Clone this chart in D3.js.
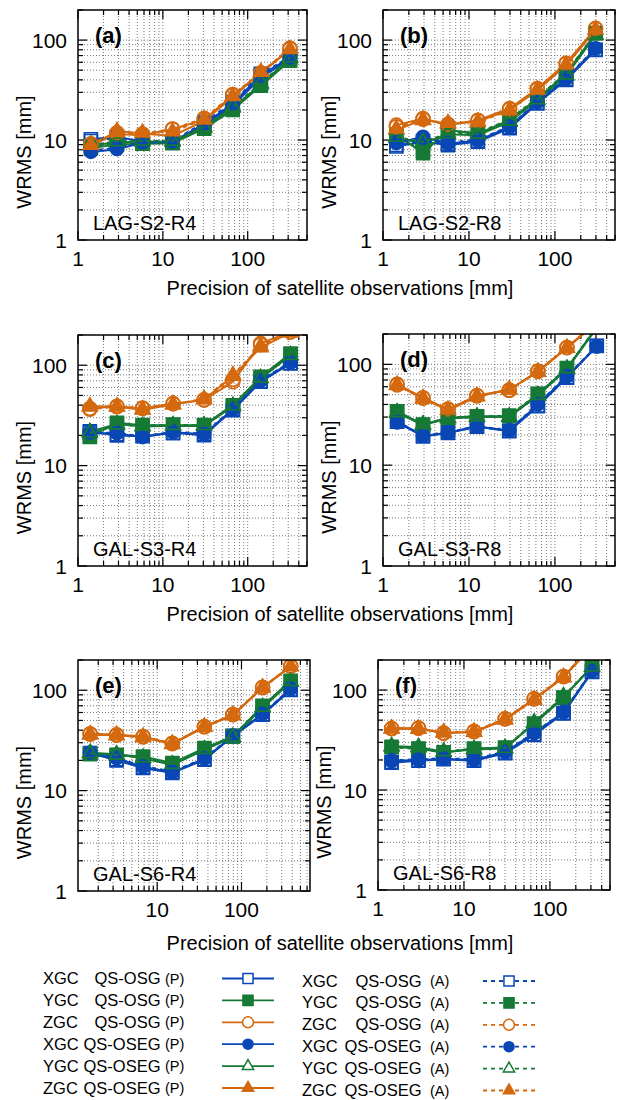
<!DOCTYPE html>
<html>
<head>
<meta charset="utf-8">
<script src="https://cdn.jsdelivr.net/npm/d3@7"></script>
<style>
  body { margin: 0; background: #fff; }
  svg { display: block; }
  text { font-family: "Liberation Sans", Arial, Helvetica, sans-serif; fill: #000; }
</style>
</head>
<body>
<div id="chart"></div>
<script>
// ---- data ----
const seriesNames = ["XGC", "YGC", "ZGC", "XGC", "YGC", "ZGC"];
const methodNames = ["QS-OSG", "QS-OSG", "QS-OSG", "QS-OSEG", "QS-OSEG", "QS-OSEG"];
const solutionTags = ["(P)", "(A)"];
const panelTags = ["(a)", "(b)", "(c)", "(d)", "(e)", "(f)"];
const siteLabels = ["LAG-S2-R4", "LAG-S2-R8", "GAL-S3-R4", "GAL-S3-R8", "GAL-S6-R4", "GAL-S6-R8"];
const xTitle = "Precision of satellite observations [mm]";
const yTitle = "WRMS [mm]";

// precision of observations [mm] per panel
const xA = [1.42, 2.88, 5.75, 13.0, 30.7, 66.7, 143, 315];
const xB = [1.43, 2.92, 5.7, 12.7, 29.7, 62.4, 135, 297];
const xC = [1.38, 2.88, 5.77, 13.2, 30.6, 67, 142, 320];
const xD = [1.46, 2.92, 5.7, 12.4, 29.4, 63.4, 138, 307];
const xE = [1.6, 3.3, 6.8, 15.1, 36.3, 79, 178, 384];
const xF = [1.44, 2.96, 5.8, 13.1, 30.1, 65.5, 144, 309];

// WRMS [mm], rows: XGC OSG, YGC OSG, ZGC OSG, XGC OSEG, YGC OSEG, ZGC OSEG
const wrmsA_P = [
  [10.2, 10.8, 9.6, 9.6, 14.5, 23, 45, 66],
  [8.3, 9.0, 9.2, 9.3, 13.0, 20, 35, 62],
  [8.9, 11.5, 11.2, 12.8, 16, 28, 46, 82],
  [7.6, 8.1, 9.4, 9.5, 14.0, 22, 42, 65],
  [8.8, 9.5, 9.6, 9.6, 13.3, 21, 36, 66],
  [8.7, 12.3, 11.6, 11.0, 15.5, 27, 47, 80]
];
const wrmsA_A = [
  [9.8, 10.5, 9.8, 9.8, 15, 24, 46, 68],
  [8.5, 9.2, 9.3, 9.4, 13.2, 20.5, 36, 63],
  [9.2, 11.8, 11.5, 12.9, 16.5, 28.5, 47, 83],
  [7.8, 8.4, 9.5, 9.7, 14.5, 23, 44, 67],
  [9.0, 9.7, 9.8, 9.8, 13.6, 21.5, 37, 67],
  [8.9, 12.0, 11.8, 12.2, 16, 27.5, 48, 81]
];
const wrmsB_P = [
  [8.6, 9.6, 8.9, 9.6, 13.1, 23.2, 39.8, 79.4],
  [11.4, 7.4, 12.6, 11.6, 15.8, 26, 46, 117],
  [14.1, 16.4, 14.1, 15.8, 20.7, 32.8, 58.7, 130],
  [9.3, 10.8, 9.2, 9.9, 13.5, 24, 41, 82],
  [10.4, 9.3, 11.4, 11.2, 15.2, 25, 44, 112],
  [12.6, 16.0, 14.5, 15.3, 20, 31.5, 56, 126]
];
const wrmsB_A = [
  [8.9, 9.8, 9.1, 9.8, 13.4, 23.6, 40.5, 80],
  [11.0, 7.8, 12.2, 11.8, 16.1, 26.5, 47, 118],
  [13.6, 16.1, 14.4, 15.6, 20.3, 32, 58, 131],
  [9.5, 10.5, 9.4, 10.1, 13.7, 24.4, 42, 83],
  [10.7, 9.6, 11.6, 11.5, 15.5, 25.4, 45, 114],
  [13.0, 15.8, 14.8, 15.1, 19.8, 31.8, 57, 127]
];
const wrmsC_P = [
  [22, 20, 19.6, 21.2, 20.1, 35.7, 68.3, 104],
  [19.3, 26.7, 25.3, 25.3, 25.3, 40, 76.6, 131],
  [37.1, 39.1, 37.1, 41.6, 44.9, 68.3, 165, 215],
  [21, 20.9, 19.2, 21.5, 20.5, 36.5, 70, 106],
  [21.7, 26, 24.5, 25, 24.8, 39, 74, 125],
  [39.1, 38.5, 36, 40.5, 45.5, 77.9, 150, 212]
];
const wrmsC_A = [
  [21.5, 20.4, 19.9, 21.0, 20.4, 36.2, 69, 105],
  [19.8, 26.2, 25.0, 25.6, 25.0, 39.5, 75.5, 128],
  [36.5, 38.6, 37.5, 41.2, 45.4, 72, 160, 214],
  [21.3, 21.2, 19.5, 21.8, 20.8, 37, 71, 107],
  [21.2, 25.6, 24.8, 25.3, 25.2, 39.4, 74.5, 126],
  [38.5, 38.9, 36.5, 41, 46, 80, 155, 213]
];
const wrmsD_P = [
  [27.3, 19.3, 20.9, 24.3, 21.7, 38.5, 73.8, 152],
  [34.3, 25.3, 29.5, 30.6, 30.6, 50.4, 91.4, 235],
  [63.4, 46.7, 35.7, 49.2, 55.6, 85.9, 147, 265],
  [26.5, 19.5, 21, 24, 22, 40, 76, 150],
  [33, 25, 29, 30, 30, 49, 90, 230],
  [62, 46, 35, 48, 56.5, 84, 145, 260]
];
const wrmsD_A = [
  [27.0, 19.6, 21.2, 24.0, 22.0, 39, 74.5, 153],
  [33.8, 25.0, 29.2, 30.2, 31.0, 51, 92, 236],
  [62.5, 46.2, 36.0, 48.6, 55.0, 85, 146, 262],
  [26.8, 19.8, 21.3, 24.3, 22.3, 40.5, 77, 151],
  [33.4, 25.4, 29.4, 30.4, 30.4, 49.5, 91, 232],
  [62.8, 45.6, 35.4, 48.4, 56, 84.5, 146, 261]
];
const wrmsE_P = [
  [23.7, 20, 16.8, 15, 20.3, 34.6, 56.9, 100.7],
  [23.3, 22.8, 21.9, 18.8, 26.5, 34.6, 69.8, 124],
  [36.8, 36, 34.6, 29.3, 43.5, 56.9, 107, 174],
  [23.5, 21, 17.2, 15.2, 20.8, 35, 58, 103],
  [23.8, 23, 21, 18, 25.5, 34, 67, 121],
  [36, 35.5, 34, 29, 43, 56, 106, 172]
];
const wrmsE_A = [
  [23.4, 20.4, 17.0, 15.3, 20.6, 35.2, 57.5, 101.5],
  [23.0, 22.4, 21.5, 18.5, 26.0, 35.0, 69, 123],
  [36.4, 35.6, 34.2, 29.6, 43.0, 57.4, 106, 173],
  [23.9, 21.3, 17.5, 15.5, 21.0, 35.4, 58.5, 104],
  [23.5, 22.7, 21.3, 18.3, 25.8, 34.3, 68, 122],
  [36.5, 35.9, 34.4, 29.5, 43.4, 56.5, 106.5, 173]
];
const wrmsF_P = [
  [18.8, 19.6, 20.3, 19.6, 23.3, 35.5, 58.5, 152],
  [27.1, 26.1, 23.6, 26.1, 26.7, 45.7, 83.8, 174],
  [41.4, 41.4, 36.9, 38.3, 51.3, 81.3, 136, 280],
  [19.5, 20, 20.5, 20, 24, 37, 60, 155],
  [27.5, 27, 24, 25.5, 26, 47, 86, 170],
  [41, 41, 37.5, 38, 50.5, 80, 134, 275]
];
const wrmsF_A = [
  [19.1, 19.9, 20.6, 19.9, 23.6, 36, 59, 153],
  [26.8, 25.8, 23.9, 25.8, 26.4, 46.3, 84.5, 173],
  [41.0, 41.8, 37.3, 38.7, 51.8, 82, 137, 281],
  [19.8, 20.3, 20.8, 20.3, 24.3, 37.5, 60.5, 156],
  [27.2, 26.7, 24.3, 25.8, 26.3, 47.5, 87, 171],
  [41.3, 40.7, 37.8, 38.4, 51, 80.6, 135, 276]
];

// ---- layout & styles ----
const W = 619, H = 1100;
const BLUE = "#0a47b5", GREEN = "#167a36", ORANGE = "#d4690f";
const seriesStyle = [
  { color: BLUE,   shape: d3.symbolSquare,   size: 165, filled: false },
  { color: GREEN,  shape: d3.symbolSquare,   size: 165, filled: true },
  { color: ORANGE, shape: d3.symbolCircle,   size: 150, filled: false },
  { color: BLUE,   shape: d3.symbolCircle,   size: 130, filled: true },
  { color: GREEN,  shape: d3.symbolTriangle, size: 90,  filled: false },
  { color: ORANGE, shape: d3.symbolTriangle, size: 90,  filled: true }
];

const panels = [
  { xs: xA, P: wrmsA_P, A: wrmsA_A, left: 78,  top: 10,  right: 307, bottom: 240, xDom: [1, 500] },
  { xs: xB, P: wrmsB_P, A: wrmsB_A, left: 383, top: 10,  right: 615, bottom: 240, xDom: [1, 500] },
  { xs: xC, P: wrmsC_P, A: wrmsC_A, left: 78,  top: 335, right: 307, bottom: 566, xDom: [1, 500] },
  { xs: xD, P: wrmsD_P, A: wrmsD_A, left: 383, top: 334, right: 615, bottom: 566, xDom: [1, 500] },
  { xs: xE, P: wrmsE_P, A: wrmsE_A, left: 78,  top: 660, right: 310, bottom: 891, xDom: [1.15, 650] },
  { xs: xF, P: wrmsF_P, A: wrmsF_A, left: 378, top: 660, right: 610, bottom: 890, xDom: [1, 500] }
];
const xTitleY = [294.5, 621, 950];

const svg = d3.select("#chart").append("svg")
  .attr("width", W)
  .attr("height", H)
  .attr("viewBox", `0 0 ${W} ${H}`);

const isMajor = v => Math.abs(Math.log10(v) - Math.round(Math.log10(v))) < 1e-9;

panels.forEach((p, i) => {
  const x = d3.scaleLog().domain(p.xDom).range([p.left, p.right]);
  const y = d3.scaleLog().domain([1, 200]).range([p.bottom, p.top]);
  const g = svg.append("g");

  const clipId = "clip" + i;
  svg.append("clipPath").attr("id", clipId)
    .append("rect")
    .attr("x", p.left).attr("y", p.top)
    .attr("width", p.right - p.left).attr("height", p.bottom - p.top);

  const xt = x.ticks().filter(v => v >= p.xDom[0] && v <= p.xDom[1]);
  const yt = y.ticks();

  // dotted grid at all decade subdivisions
  const grid = g.append("g")
    .attr("stroke", "#7a7a7a")
    .attr("stroke-width", 1)
    .attr("stroke-dasharray", "1,2");
  grid.selectAll(".gx").data(xt.filter(v => v > p.xDom[0] && v < p.xDom[1])).enter()
    .append("line")
    .attr("x1", d => x(d)).attr("x2", d => x(d))
    .attr("y1", p.top).attr("y2", p.bottom);
  grid.selectAll(".gy").data(yt.filter(v => v > 1 && v < 200)).enter()
    .append("line")
    .attr("y1", d => y(d)).attr("y2", d => y(d))
    .attr("x1", p.left).attr("x2", p.right);

  // ticks on all four sides, pointing inward
  const ticks = g.append("g").attr("stroke", "#000").attr("stroke-width", 1.2);
  xt.forEach(v => {
    const len = isMajor(v) ? 9 : 5;
    ticks.append("line").attr("x1", x(v)).attr("x2", x(v)).attr("y1", p.bottom).attr("y2", p.bottom - len);
    ticks.append("line").attr("x1", x(v)).attr("x2", x(v)).attr("y1", p.top).attr("y2", p.top + len);
  });
  yt.forEach(v => {
    const len = isMajor(v) ? 9 : 5;
    ticks.append("line").attr("y1", y(v)).attr("y2", y(v)).attr("x1", p.left).attr("x2", p.left + len);
    ticks.append("line").attr("y1", y(v)).attr("y2", y(v)).attr("x1", p.right).attr("x2", p.right - len);
  });

  // tick labels
  g.selectAll(".xl").data(xt.filter(isMajor)).enter()
    .append("text")
    .attr("x", d => x(d))
    .attr("y", p.bottom + 26)
    .attr("text-anchor", "middle")
    .style("font-size", "21px")
    .text(d => d3.format("d")(d));
  g.selectAll(".yl").data(yt.filter(isMajor)).enter()
    .append("text")
    .attr("x", p.left - 11)
    .attr("y", d => y(d))
    .attr("dy", "0.36em")
    .attr("text-anchor", "end")
    .style("font-size", "21px")
    .text(d => d3.format("d")(d));

  // inner labels
  g.append("text")
    .attr("x", p.left + 15).attr("y", p.bottom - 10)
    .style("font-size", "20px")
    .text(siteLabels[i]);
  g.append("text")
    .attr("x", p.left + 17).attr("y", p.top + 33)
    .style("font-size", "22px")
    .style("font-weight", "bold")
    .text(panelTags[i]);

  // y title
  const ty = (p.top + p.bottom) / 2 + 27;
  g.append("text")
    .attr("transform", `translate(${p.left - 47},${ty}) rotate(-90)`)
    .attr("text-anchor", "middle")
    .style("font-size", "20px")
    .text(yTitle);

  // series
  const plot = g.append("g").attr("clip-path", `url(#${clipId})`);
  const line = d3.line().x(d => x(d[0])).y(d => y(d[1]));
  [p.P, p.A].forEach((set, k) => {
    set.forEach((vals, s) => {
      const st = seriesStyle[s];
      const pts = vals.map((v, j) => [p.xs[j], v]);
      plot.append("path")
        .attr("d", line(pts))
        .attr("fill", "none")
        .attr("stroke", st.color)
        .attr("stroke-width", 2)
        .attr("stroke-dasharray", k === 1 ? "4,4" : null);
      plot.selectAll(null).data(pts).enter()
        .append("path")
        .attr("transform", d => `translate(${x(d[0])},${y(d[1])})`)
        .attr("d", d3.symbol().type(st.shape).size(st.size))
        .attr("fill", st.filled ? st.color : "none")
        .attr("stroke", st.color)
        .attr("stroke-width", 1.7);
    });
  });

  // frame
  g.append("rect")
    .attr("x", p.left).attr("y", p.top)
    .attr("width", p.right - p.left).attr("height", p.bottom - p.top)
    .attr("fill", "none")
    .attr("stroke", "#000")
    .attr("stroke-width", 1.5);
});

// x titles, one per row
xTitleY.forEach(yy => {
  svg.append("text")
    .attr("x", 340).attr("y", yy)
    .attr("text-anchor", "middle")
    .style("font-size", "20px")
    .text(xTitle);
});

// ---- legend ----
const legendCols = [
  { nameX: 43, methodEnd: 160.5, tagX: 165, sample: [222, 274], y0: 984, dash: null },
  { nameX: 302, methodEnd: 421.5, tagX: 430, sample: [483, 535], y0: 986.5, dash: "4,4" }
];
legendCols.forEach((c, k) => {
  seriesNames.forEach((nm, s) => {
    const st = seriesStyle[s];
    const yy = c.y0 + s * 21.9;
    const row = svg.append("g");
    row.append("text").attr("x", c.nameX).attr("y", yy)
      .style("font-size", "16.5px").text(nm);
    row.append("text").attr("x", c.methodEnd).attr("y", yy)
      .attr("text-anchor", "end")
      .style("font-size", "16.5px").text(methodNames[s]);
    row.append("text").attr("x", c.tagX).attr("y", yy - 0.5)
      .style("font-size", "14.5px").text(solutionTags[k]);
    const ly = yy - 5.5;
    row.append("line")
      .attr("x1", c.sample[0]).attr("x2", c.sample[1])
      .attr("y1", ly).attr("y2", ly)
      .attr("stroke", st.color)
      .attr("stroke-width", 1.8)
      .attr("stroke-dasharray", c.dash);
    row.append("path")
      .attr("transform", `translate(${(c.sample[0] + c.sample[1]) / 2},${ly})`)
      .attr("d", d3.symbol().type(st.shape).size(st.size * 0.62))
      .attr("fill", st.filled ? st.color : "#fff")
      .attr("stroke", st.color)
      .attr("stroke-width", 1.5);
  });
});
</script>
</body>
</html>
